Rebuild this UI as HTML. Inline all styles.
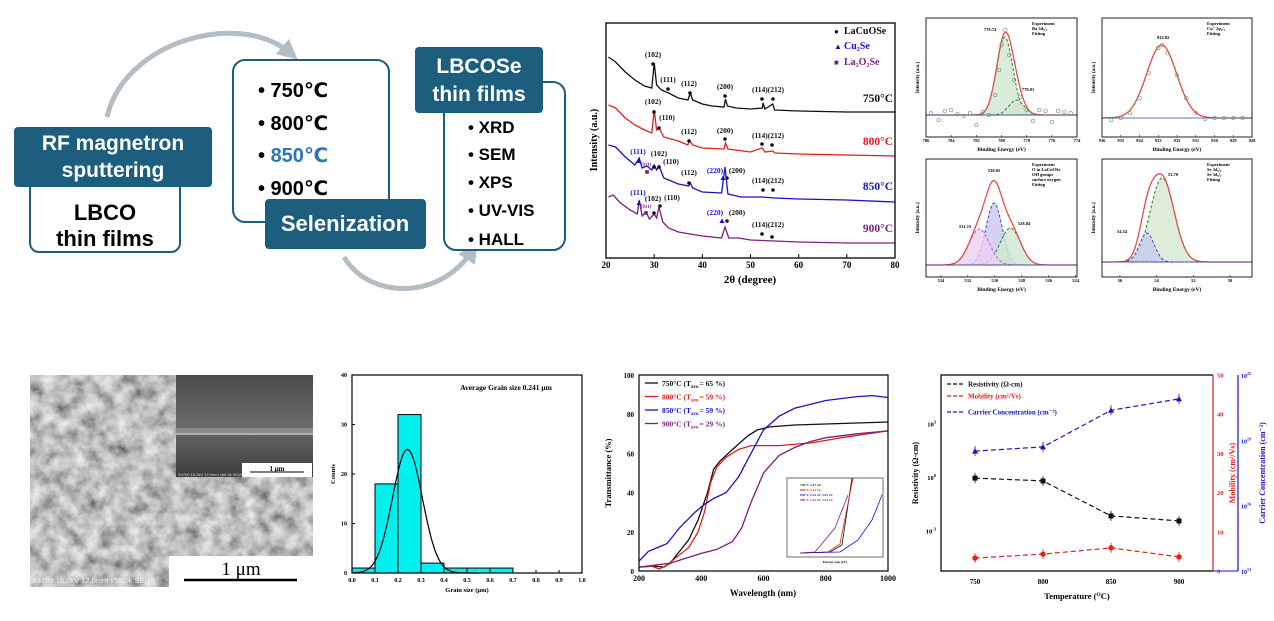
<!DOCTYPE html>
<html><head><meta charset="utf-8">
<style>
html,body{margin:0;padding:0;background:#fff;}
svg{display:block;}
.fc{font-family:"Liberation Sans","DejaVu Sans",sans-serif;font-weight:bold;}
.sr{font-family:"Liberation Serif","DejaVu Serif",serif;font-weight:bold;}
</style></head>
<body>
<svg id="root" width="1274" height="621" viewBox="0 0 1274 621" xmlns="http://www.w3.org/2000/svg">
<defs>
<marker id="arr" viewBox="0 0 10 10" refX="5" refY="5" markerWidth="4" markerHeight="4" orient="auto"><path d="M0,0 L10,5 L0,10 z" fill="#b4bcc4"/></marker>
<filter id="semtex" x="0" y="0" width="100%" height="100%">
<feTurbulence type="fractalNoise" baseFrequency="0.07" numOctaves="4" seed="7"/>
<feColorMatrix type="matrix" values="1.2 0 0 0 -0.02  1.2 0 0 0 -0.02  1.2 0 0 0 -0.02  0 0 0 0 1"/>
</filter>
<linearGradient id="insg" x1="0" y1="0" x2="0" y2="1"><stop offset="0" stop-color="#4a4a4a"/><stop offset="0.5" stop-color="#6a6a6a"/><stop offset="1" stop-color="#3c3c3c"/></linearGradient>
</defs>

<!-- ================= FLOWCHART ================= -->
<g class="fc">
<path d="M107,117 C125,40 240,10 290,53" fill="none" stroke="#b4bcc4" stroke-width="5" marker-end="url(#arr)"/>
<path d="M344,257 C370,300 440,300 472,251" fill="none" stroke="#b4bcc4" stroke-width="5" marker-end="url(#arr)"/>
<rect x="30" y="180" width="150" height="72" rx="9" fill="#fff" stroke="#1d5d7d" stroke-width="2"/>
<text x="105" y="220" font-size="22" text-anchor="middle" fill="#000">LBCO</text>
<text x="105" y="246" font-size="22" text-anchor="middle" fill="#000">thin films</text>
<rect x="14" y="127" width="198" height="60" rx="4" fill="#1d5d7d"/>
<text x="113" y="150" font-size="21" text-anchor="middle" fill="#fff">RF magnetron</text>
<text x="113" y="177" font-size="21" text-anchor="middle" fill="#fff">sputtering</text>

<rect x="233" y="60" width="156" height="162" rx="12" fill="#fff" stroke="#1d5d7d" stroke-width="2"/>
<text x="258" y="97" font-size="20" fill="#000">• 750℃</text>
<text x="258" y="130" font-size="20" fill="#000">• 800℃</text>
<text x="258" y="162" font-size="20" fill="#000">• <tspan fill="#2e75b6">850℃</tspan></text>
<text x="258" y="195" font-size="20" fill="#000">• 900℃</text>
<rect x="265" y="199" width="161" height="50" rx="4" fill="#1d5d7d"/>
<text x="345" y="231" font-size="22" text-anchor="middle" fill="#fff">Selenization</text>

<rect x="444" y="82" width="121" height="168" rx="12" fill="#fff" stroke="#1d5d7d" stroke-width="2"/>
<text x="468" y="133" font-size="17" fill="#000">• XRD</text>
<text x="468" y="160" font-size="17" fill="#000">• SEM</text>
<text x="468" y="188" font-size="17" fill="#000">• XPS</text>
<text x="468" y="216" font-size="17" fill="#000">• UV-VIS</text>
<text x="468" y="245" font-size="17" fill="#000">• HALL</text>
<rect x="415" y="47" width="128" height="66" rx="4" fill="#1d5d7d"/>
<text x="479" y="73" font-size="21" text-anchor="middle" fill="#fff">LBCOSe</text>
<text x="479" y="101" font-size="21" text-anchor="middle" fill="#fff">thin films</text>
</g>

<!-- ================= SEM ================= -->
<g>
<rect x="30" y="375" width="283" height="212" fill="#888"/>
<rect x="30" y="375" width="283" height="212" filter="url(#semtex)" opacity="0.85"/>
<rect x="176" y="375" width="137" height="102" fill="url(#insg)"/>
<rect x="176" y="428" width="137" height="5" fill="#8a8a8a"/>
<line x1="176" y1="434" x2="313" y2="434" stroke="#ddd" stroke-width="1.2"/>
<rect x="242" y="463" width="70" height="14" fill="#fff"/>
<line x1="250" y1="472" x2="304" y2="472" stroke="#000" stroke-width="1"/>
<text x="277" y="471" font-size="7" text-anchor="middle" class="sr" font-weight="normal">1 μm</text>
<text x="178" y="476" font-size="4" fill="#ddd" font-family="Liberation Sans">S4700 15.0kV 12.0mm x60.0k SE(M)</text>
<rect x="169" y="556" width="144" height="31" fill="#fff"/>
<text x="241" y="575" font-size="19" text-anchor="middle" font-family="Liberation Serif">1 μm</text>
<line x1="184" y1="580" x2="297" y2="580" stroke="#000" stroke-width="2.5"/>
<text x="32" y="583" font-size="7.5" fill="#eee" font-family="Liberation Sans">S4700 15.0kV 12.0mm x50.0k SE(M)</text>
</g>
</svg>

<script>
const NS='http://www.w3.org/2000/svg';
const root=document.getElementById('root');
function el(tag,parent){const e=document.createElementNS(NS,tag);parent.appendChild(e);return e;}
function set(e,o){for(const k in o)e.setAttribute(k,o[k]);return e;}
function txt(parent,x,y,s,size,opts){const t=el('text',parent);set(t,{x:x,y:y,'font-size':size,'class':'sr'});if(opts)set(t,opts);t.textContent=s;return t;}

/* ---------------- XRD data ---------------- */
const xrdTicks=[20,30,40,50,60,70,80];
const xrd750=[[20.5,201],[22,196],[24,186],[26,178],[28,172],[29.5,170],[30,195],[30.5,173],[31.5,168],[33,165],[35,160],[37,158],[37.5,165],[38,158],[40,154],[42,152],[44.5,151],[44.8,159],[45.2,152],[47,150],[50,149],[52.5,150],[52.6,155],[53,149],[54.6,154],[55,148],[60,147],[70,146],[80,146]];
const xrd800=[[20.5,153],[22,150],[24,140],[26,133],[28,128],[29.5,125],[30,148],[30.5,128],[31,130],[32,121],[35,117],[37,113],[37.3,118],[38,113],[40,110],[44.5,109],[44.8,115],[45.3,109],[50,106],[52.4,110],[53,106],[54.6,107],[55,105],[60,104],[70,103],[80,102]];
const xrd850=[[20.5,113],[22,111],[24,101],[26,93],[26.9,100],[27.5,90],[28.5,92],[29.5,88],[30,93],[30.5,88],[31,92],[32,80],[35,74],[37.2,72],[37.5,75],[38,70],[40,66],[44,65],[44.7,91],[45.3,64],[48,61],[52.5,61],[55,60],[60,59],[70,58],[80,56]];
const xrd900=[[20.5,61],[21.5,63],[23,55],[25,48],[26.5,44],[26.9,58],[27.5,42],[28.3,46],[29,39],[30,44],[30.5,40],[31,51],[31.8,36],[33,30],[35,26],[40,22],[44,20],[44.7,31],[45.5,20],[47.5,20],[50,18],[55,17],[60,16],[70,15],[80,15]];
const xrdColors=['#111','#e0201c','#1414c8','#7e1f7e'];

(function(){
 const g=el('g',root);
 
 
 const X0=606,X1=895,Y0=258,Y1=23;
 const xs=v=>X0+(v-20)/60*(X1-X0);
 const ys=v=>Y0-v;
 [xrd750,xrd800,xrd850,xrd900].forEach((s,i)=>{
  const p=el('path',g);
  
  
  set(p,{d:'M'+s.map(q=>xs(q[0]).toFixed(1)+','+ys(q[1]).toFixed(1)).join('L'),fill:'none',stroke:xrdColors[i],'stroke-width':1.3});
 });
 const fr=el('rect',g);
 
 
 set(fr,{x:X0,y:Y1,width:X1-X0,height:Y0-Y1,fill:'none',stroke:'#000','stroke-width':1.3});
 xrdTicks.forEach(v=>{
  const l=el('line',g);
  
  
  set(l,{x1:xs(v),x2:xs(v),y1:Y0,y2:Y0-4,stroke:'#000'});
  const t=txt(g,xs(v),268,v,9,{'text-anchor':'middle'});
  
  
 });
 let t=txt(g,750,283,'2θ (degree)',11,{'text-anchor':'middle'});
 
 
 t=txt(g,0,0,'Intensity (a.u.)',10,{'text-anchor':'middle',transform:'translate(597,140) rotate(-90)'});
 
 
 const leg=[['●','LaCuOSe','#111',34],['▲','Cu₂Se','#1414c8',49],['■','La₂O₂Se','#7e1f7e',65]];
 leg.forEach(L=>{
  const a=txt(g,834,L[3],L[0],8,{fill:L[2]});
  
  
  const b=txt(g,844,L[3],L[1],10,{fill:L[2]});
  
  
 });
 [['750°C',102],['800°C',145],['850°C',190],['900°C',232]].forEach((L,i)=>{
  const a=txt(g,893,L[1],L[0],11.5,{'text-anchor':'end',fill:xrdColors[i]});
  
  
 });
 const ann=[['(102)',653,57,'#111'],['(111)',668,82,'#111'],['(112)',689,86,'#111'],['(200)',725,89,'#111'],['(114)(212)',768,92,'#111'],
  ['(102)',653,104,'#111'],['(110)',667,120,'#111'],['(112)',689,134,'#111'],['(200)',725,133,'#111'],['(114)(212)',768,138,'#111'],
  ['(111)',638,154,'#1414c8'],['(102)',659,156,'#111'],['(110)',671,164,'#111'],['(112)',689,175,'#111'],['(220)',715,173,'#1414c8'],['(200)',737,173,'#111'],['(114)(212)',768,183,'#111'],
  ['(111)',638,195,'#1414c8'],['(102)',653,201,'#111'],['(110)',672,200,'#111'],['(220)',715,215,'#1414c8'],['(200)',737,215,'#111'],['(114)(212)',768,227,'#111']];
 ann.forEach(A=>{
  const a=txt(g,A[1],A[2],A[0],7.5,{'text-anchor':'middle',fill:A[3]});
  
  
 });
 [['(011)',646,166],['(011)',646,208]].forEach(A=>{
  const a=txt(g,A[1],A[2],A[0],5,{'text-anchor':'middle',fill:'#7e1f7e'});
  
  
 });
 const dots=[[653,64],[668,89],[690,93],[725,96],[762,99],[773,99],[654,112],[659,128],[689,141],[725,139],[762,144],[772,145],[654,167],[659,167],[689,183],[727,178],[763,190],[773,190],[660,206],[654,213],[727,221],[762,234],[772,237]];
 dots.forEach(d=>{
  const c=el('circle',g);
  
  
  set(c,{cx:d[0],cy:d[1],r:1.8,fill:'#111'});
 });
 [[639,161],[723,178],[639,203],[722,221]].forEach(d=>{
  const p=el('path',g);
  
  
  set(p,{d:`M${d[0]},${d[1]-2.5}L${d[0]+2.5},${d[1]+2}L${d[0]-2.5},${d[1]+2}z`,fill:'#1414c8'});
 });
 [[647,172],[646,213]].forEach(d=>{
  const r=el('rect',g);
  
  
  set(r,{x:d[0]-1.8,y:d[1]-1.8,width:3.6,height:3.6,fill:'#7e1f7e'});
 });
})();

/* ---------------- XPS data ---------------- */
const xpsBaTicks=[786,784,782,780,778,776,774];
const xpsBaPeaks=[[779.74,78,0.65],[778.81,15,0.6]];
const xpsBaExp=[[785.6,2],[785,-5],[784.5,4],[784,5],[783.5,1],[783,-1],[782.5,2],[782,-10],[781.5,3],[781,0],[780.5,20],[780.2,45],[780,70],[779.7,85],[779.4,60],[779,35],[778.5,18],[778,5],[777.5,-6],[777,5],[776.5,4],[776,-7],[775.5,4],[775,3],[774.5,2]];
const xpsCuTicks=[936,935,934,933,932,931,930,929,928];
const xpsCuPeaks=[[932.82,73,0.8]];
const xpsCuExp=[[935.5,-2],[935,0],[934.5,5],[934,20],[933.5,45],[933,70],[932.8,73],[932.5,65],[932,43],[931.5,20],[931,5],[930.5,-1],[930,0],[929.5,0],[929,0],[928.5,0]];
const xpsOTicks=[534,532,530,528,526,524];
const xpsOPeaks=[[530.05,62,0.6],[528.84,37,0.75],[531.15,36,0.75]];
const xpsSeTicks=[56,54,52,50];
const xpsSePeaks=[[53.70,84,0.65],[54.54,29,0.4]];

(function(){
 const panels=[
  {name:'ba3d',x0:926,x1:1077,y0:18,y1:137,d0:786,d1:774,base:115,ticks:xpsBaTicks,peaks:xpsBaPeaks,exp:xpsBaExp,fills:['#cfe6cf','#cfe6cf'],strokes:['#2e7d32','#2e7d32'],labels:[['779.74',990,31],['778.81',1028,91]],legend:['Experiment','Ba 3d₅/₂','Fitting']},
  {name:'cu2p',x0:1102,x1:1252,y0:18,y1:137,d0:936,d1:928,base:118,ticks:xpsCuTicks,peaks:xpsCuPeaks,exp:xpsCuExp,fills:['none'],strokes:['#333'],labels:[['932.82',1163,39]],legend:['Experiment','Cu⁺ 2p₃/₂','Fitting']},
  {name:'o1s',x0:926,x1:1077,y0:159,y1:277,d0:535.1,d1:523.9,base:265,ticks:xpsOTicks,peaks:xpsOPeaks,exp:[],fills:['#c9c6f0','#cfe6cf','#ecd0f0'],strokes:['#5040c0','#2e7d32','#c060d0'],labels:[['530.05',994,172],['528.84',1024,225],['531.15',965,228]],legend:['Experiment','O in LaCuOSe','OH groups','surface oxygen','Fitting']},
  {name:'se3d',x0:1102,x1:1252,y0:159,y1:277,d0:56.98,d1:48.8,base:262,ticks:xpsSeTicks,peaks:xpsSePeaks,exp:[],fills:['#d6e9d0','#c4cbee'],strokes:['#2e7d32','#4050c0'],labels:[['53.70',1173,176],['54.54',1122,233]],legend:['Experiment','Se 3d₅/₂','Se 3d₃/₂','Fitting']}
 ];
 panels.forEach(P=>{
  const g=el('g',root);
  
  
  const xs=v=>P.x0+(P.d0-v)/(P.d0-P.d1)*(P.x1-P.x0);
  const ys=v=>P.base-v;
  const N=120;
  const gauss=(pk,e)=>pk[1]*Math.exp(-0.5*Math.pow((e-pk[0])/pk[2],2));
  P.peaks.forEach((pk,i)=>{
   let d='';
   for(let k=0;k<=N;k++){const e=P.d0+(P.d1-P.d0)*k/N;d+=(k?'L':'M')+xs(e).toFixed(1)+','+ys(gauss(pk,e)).toFixed(1);}
   const p=el('path',g);
   
   
   set(p,{d:d+(P.fills[i]!=='none'?'Z':''),fill:P.fills[i],'fill-opacity':0.8,stroke:P.strokes[i],'stroke-width':1,'stroke-dasharray':'3,2'});
  });
  let d='';
  for(let k=0;k<=N;k++){const e=P.d0+(P.d1-P.d0)*k/N;let s=0;P.peaks.forEach(pk=>s+=gauss(pk,e));d+=(k?'L':'M')+xs(e).toFixed(1)+','+ys(s).toFixed(1);}
  const f=el('path',g);
  
  
  set(f,{d:d,fill:'none',stroke:'#e0504a','stroke-width':1.3});
  const bl=el('line',g);
  
  
  set(bl,{x1:P.x0,x2:P.x1,y1:P.base,y2:P.base,stroke:'#3040a0','stroke-width':0.8});
  P.exp.forEach(q=>{
   const c=el('circle',g);
   
   
   set(c,{cx:xs(q[0]),cy:ys(q[1]),r:1.8,fill:'none',stroke:'#6a9a6a','stroke-width':0.7});
  });
  const fr=el('rect',g);
  
  
  set(fr,{x:P.x0,y:P.y0,width:P.x1-P.x0,height:P.y1-P.y0,fill:'none',stroke:'#222','stroke-width':1});
  P.ticks.forEach(v=>{
   const t=txt(g,xs(v),P.y1+5,v,4.5,{'text-anchor':'middle'});
   
   
   const l=el('line',g);
   
   
   set(l,{x1:xs(v),x2:xs(v),y1:P.y1,y2:P.y1-2,stroke:'#222','stroke-width':0.6});
  });
  let t=txt(g,(P.x0+P.x1)/2,P.y1+14,'Binding Energy (eV)',5.5,{'text-anchor':'middle'});
  
  
  t=txt(g,0,0,'Intensity (a.u.)',5,{'text-anchor':'middle',transform:`translate(${P.x0-7},${(P.y0+P.y1)/2}) rotate(-90)`});
  
  
  P.labels.forEach(L=>{
   const a=txt(g,L[1],L[2],L[0],4.5,{'text-anchor':'middle'});
   
   
  });
  P.legend.forEach((s,i)=>{
   const a=txt(g,P.x1-45,P.y0+7+i*5,s,4.5,{});
   
   
  });
 });
})();

/* ---------------- Histogram ---------------- */
const grainBins=[0,0.1,0.2,0.3,0.4,0.5,0.6];
const grainCounts=[1,18,32,2,1,1,1];
const grainFit=[0.241,0.065,25];
const grainXTicks=[0,0.1,0.2,0.3,0.4,0.5,0.6,0.7,0.8,0.9,1.0];
const grainYTicks=[0,10,20,30,40];
(function(){
 const g=el('g',root);
 
 
 const X0=352,X1=582,Y0=573,Y1=375;
 const xs=v=>X0+v*(X1-X0);
 const ys=v=>Y0-v/40*(Y0-Y1);
 grainBins.forEach((b,i)=>{
  const r=el('rect',g);
  
  
  set(r,{x:xs(b),y:ys(grainCounts[i]),width:xs(b+0.1)-xs(b),height:Y0-ys(grainCounts[i]),fill:'#00f0f0',stroke:'#000','stroke-width':1});
 });
 let d='';
 for(let k=0;k<=100;k++){const v=k/100;const c=grainFit[2]*Math.exp(-0.5*Math.pow((v-grainFit[0])/grainFit[1],2));if(v>0.55)break;d+=(k?'L':'M')+xs(v).toFixed(1)+','+ys(c).toFixed(1);}
 const p=el('path',g);
 
 
 set(p,{d:d,fill:'none',stroke:'#000','stroke-width':1.2});
 const fr=el('rect',g);
 
 
 set(fr,{x:X0,y:Y1,width:X1-X0,height:Y0-Y1,fill:'none',stroke:'#000','stroke-width':1.2});
 grainXTicks.forEach(v=>{
  const t=txt(g,xs(v),582,v.toFixed(1),6,{'text-anchor':'middle'});
  
  
  const l=el('line',g);
  
  
  set(l,{x1:xs(v),x2:xs(v),y1:Y0,y2:Y0-3,stroke:'#000'});
 });
 grainYTicks.forEach(v=>{
  const t=txt(g,347,ys(v)+2,v,6,{'text-anchor':'end'});
  
  
  const l=el('line',g);
  
  
  set(l,{x1:X0,x2:X0+3,y1:ys(v),y2:ys(v),stroke:'#000'});
 });
 let t=txt(g,467,592,'Grain size (μm)',6.5,{'text-anchor':'middle'});
 
 
 t=txt(g,0,0,'Counts',6.5,{'text-anchor':'middle',transform:'translate(335,474) rotate(-90)'});
 
 
 t=txt(g,506,390,'Average Grain size 0.241 μm',7.5,{'text-anchor':'middle'});
 
 
})();

/* ---------------- Transmittance ---------------- */
const trXTicks=[200,400,600,800,1000];
const trYTicks=[0,20,40,60,80,100];
const tr750=[[200,2],[250,2.5],[280,2],[300,4],[330,10],[360,16],[390,26],[420,40],[440,52],[460,56],[500,62],[550,69],[580,72],[620,73.5],[700,74.5],[800,75],[900,75.5],[1000,76]];
const tr800=[[200,2],[240,2.5],[265,1],[290,3],[320,7],[360,12],[390,20],[410,30],[430,45],[450,53],[480,58],[520,62],[560,64],[650,64],[760,65.5],[850,68],[1000,71.5]];
const tr850=[[200,5],[230,10],[260,12],[290,14],[330,22],[380,30],[410,34],[440,37],[480,40],[520,48],[560,60],[600,72],[650,79],[700,83],[800,87],[900,89],[950,89.5],[1000,88.5]];
const tr900=[[200,2],[250,3],[300,4],[350,6.5],[400,9],[450,11],[500,15],[530,22],[560,35],[600,50],[650,59],[700,63],[750,66],[800,68],[900,70],[1000,71.5]];
const trLabels=['750°C (T','800°C (T','850°C (T','900°C (T'];
const trAvg=[65,59,59,29];
(function(){
 const g=el('g',root);
 
 
 const X0=639,X1=888,Y0=571,Y1=375;
 const xs=v=>X0+(v-200)/800*(X1-X0);
 const ys=v=>Y0-v/100*(Y0-Y1);
 [tr750,tr800,tr850,tr900].forEach((s,i)=>{
  const p=el('path',g);
  
  
  set(p,{d:'M'+s.map(q=>xs(q[0]).toFixed(1)+','+ys(q[1]).toFixed(1)).join('L'),fill:'none',stroke:xrdColors[i],'stroke-width':1.3});
 });
 const fr=el('rect',g);
 
 
 set(fr,{x:X0,y:Y1,width:X1-X0,height:Y0-Y1,fill:'none',stroke:'#000','stroke-width':1.2});
 trXTicks.forEach(v=>{
  const t=txt(g,xs(v),581,v,8,{'text-anchor':'middle'});
  
  
 });
 trYTicks.forEach(v=>{
  const t=txt(g,634,ys(v)+3,v,7,{'text-anchor':'end'});
  
  
 });
 let t=txt(g,763,596,'Wavelength (nm)',9,{'text-anchor':'middle'});
 
 
 t=txt(g,0,0,'Transmittance (%)',8.5,{'text-anchor':'middle',transform:'translate(611,473) rotate(-90)'});
 
 
 trLabels.forEach((s,i)=>{
  const y=383+i*13.5;
  const l=el('line',g);
  
  
  set(l,{x1:645,x2:658,y1:y,y2:y,stroke:xrdColors[i],'stroke-width':1.3});
  const a=txt(g,662,y+3,'',7.5,{fill:xrdColors[i]});
  
  
  a.innerHTML=s+'<tspan font-size="5" dy="2">ave.</tspan><tspan dy="-2">= '+trAvg[i]+' %)</tspan>';
 });
 const ig=el('g',g);
 
 
 const ir=el('rect',ig);
 
 
 set(ir,{x:787,y:478,width:96,height:79,fill:'#fff',stroke:'#333','stroke-width':0.7});
 const il=[['M800,553 L830,552 L842,545 L852,478','#111'],['M800,553 L828,552 L840,544 L853,478','#e0201c'],['M800,553 L840,552 L858,540 L872,520 L882,495','#1414c8'],['M800,553 L815,552 L835,528 L848,495','#7e1f7e']];
 il.forEach(q=>{
  const p=el('path',ig);
  
  
  set(p,{d:q[0],fill:'none',stroke:q[1],'stroke-width':0.8});
 });
 ['750°C 3.17 eV','800°C 3.12 eV','850°C 2.23 eV 3.87 eV','900°C 2.12 eV 2.81 eV'].forEach((s,i)=>{
  const a=txt(ig,800,486+i*5,s,3.5,{fill:xrdColors[i]});
  
  
 });
 const ix=txt(ig,835,563,'Energy gap (eV)',3.5,{'text-anchor':'middle','font-weight':'normal'});
 
 
})();

/* ---------------- Hall measurements ---------------- */
const hallTemps=[750,800,850,900];
const hallResistivity=[0.87,0.6,0.0065,0.0034];
const hallMobility=[3.3,4.3,5.9,3.6];
const hallCarrier=[3.2e18,5e18,2.4e20,8e20];
const hallXTicks=[750,800,850,900];
const hallResTicks=[3,0,-3];
const hallMobTicks=[0,10,20,30,40,50];
const hallCarTicks=[13,16,19,22];
(function(){
 const g=el('g',root);
 
 
 const X0=941,X1=1213,Y0=571,Y1=375;
 const xs=v=>X0+(v-725)/200*(X1-X0);
 const yRes=v=>477-17.8*Math.log10(v);
 const yMob=v=>Y0-v/50*(Y0-Y1);
 const yCar=v=>Y0-(Math.log10(v)-13)/9*(Y0-Y1);
 const series=[[hallResistivity,yRes,'#111','resistivity','sq'],[hallMobility,yMob,'#e0201c','mobility','ci'],[hallCarrier,yCar,'#1414c8','carrier-concentration','tr']];
 series.forEach(S=>{
  const p=el('path',g);
  
  
  set(p,{d:'M'+hallTemps.map((t,i)=>xs(t).toFixed(1)+','+S[1](S[0][i]).toFixed(1)).join('L'),fill:'none',stroke:S[2],'stroke-width':1.2,'stroke-dasharray':'5,3'});
  hallTemps.forEach((t,i)=>{
   const cx=xs(t),cy=S[1](S[0][i]);
   const eb=el('line',g);
   
   
   set(eb,{x1:cx,x2:cx,y1:cy-5,y2:cy+5,stroke:S[2],'stroke-width':0.8});
   let m;
   if(S[4]==='sq'){m=el('rect',g);set(m,{x:cx-2.5,y:cy-2.5,width:5,height:5,fill:S[2]});}
   else if(S[4]==='ci'){m=el('circle',g);set(m,{cx:cx,cy:cy,r:2.7,fill:S[2]});}
   else{m=el('path',g);set(m,{d:`M${cx},${cy-3}L${cx+3},${cy+2.5}L${cx-3},${cy+2.5}z`,fill:S[2]});}
   
   
  });
 });
 const fr=el('path',g);
 
 
 set(fr,{d:`M${X1},${Y1}L${X0},${Y1}L${X0},${Y0}L${X1},${Y0}`,fill:'none',stroke:'#000','stroke-width':1.2});
 const ra=el('line',g);
 
 
 set(ra,{x1:X1,x2:X1,y1:Y1,y2:Y0,stroke:'#e0201c','stroke-width':1.2});
 const ba=el('line',g);
 
 
 set(ba,{x1:1238,x2:1238,y1:Y1,y2:Y0,stroke:'#1414c8','stroke-width':1.2});
 const bb=el('line',g);
 
 
 set(bb,{x1:1213,x2:1238,y1:Y0,y2:Y0,stroke:'#1414c8','stroke-width':1});
 hallXTicks.forEach(v=>{
  const t=txt(g,xs(v),584,v,7,{'text-anchor':'middle'});
  
  
 });
 hallResTicks.forEach(v=>{
  const t=txt(g,936,yRes(Math.pow(10,v))+3,'',6.5,{'text-anchor':'end'});
  
  
  t.innerHTML='10<tspan font-size="4.5" dy="-3">'+v+'</tspan>';
 });
 hallMobTicks.forEach(v=>{
  const t=txt(g,1217,yMob(v)+2.5,v,6.5,{fill:'#e0201c'});
  
  
 });
 hallCarTicks.forEach(v=>{
  const t=txt(g,1241,yCar(Math.pow(10,v))+3,'',6,{fill:'#1414c8'});
  
  
  t.innerHTML='10<tspan font-size="4" dy="-3">'+v+'</tspan>';
 });
 let t=txt(g,1077,599,'',8.5,{'text-anchor':'middle'});
 
 
 t.innerHTML='Temperature (<tspan font-size="5.5" dy="-3">O</tspan><tspan dy="3">C)</tspan>';
 t=txt(g,0,0,'Resistivity (Ω-cm)',8,{'text-anchor':'middle',transform:'translate(918,473) rotate(-90)'});
 
 
 t=txt(g,0,0,'Mobility (cm²/Vs)',8,{'text-anchor':'middle',fill:'#e0201c',transform:'translate(1235,473) rotate(-90)'});
 
 
 t=txt(g,0,0,'Carrier Concentration (cm⁻³)',8,{'text-anchor':'middle',fill:'#1414c8',transform:'translate(1265,473) rotate(-90)'});
 
 
 [['Resistivity (Ω-cm)','#111',384],['Mobility (cm²/Vs)','#e0201c',396],['Carrier Concentration (cm⁻³)','#1414c8',412]].forEach(L=>{
  const l=el('line',g);
  
  
  set(l,{x1:947,x2:963,y1:L[2],y2:L[2],stroke:L[1],'stroke-width':1.2,'stroke-dasharray':'4,2'});
  const a=txt(g,968,L[2]+2.5,L[0],7,{fill:L[1]});
  
  
 });
})();
</script>
</body></html>
